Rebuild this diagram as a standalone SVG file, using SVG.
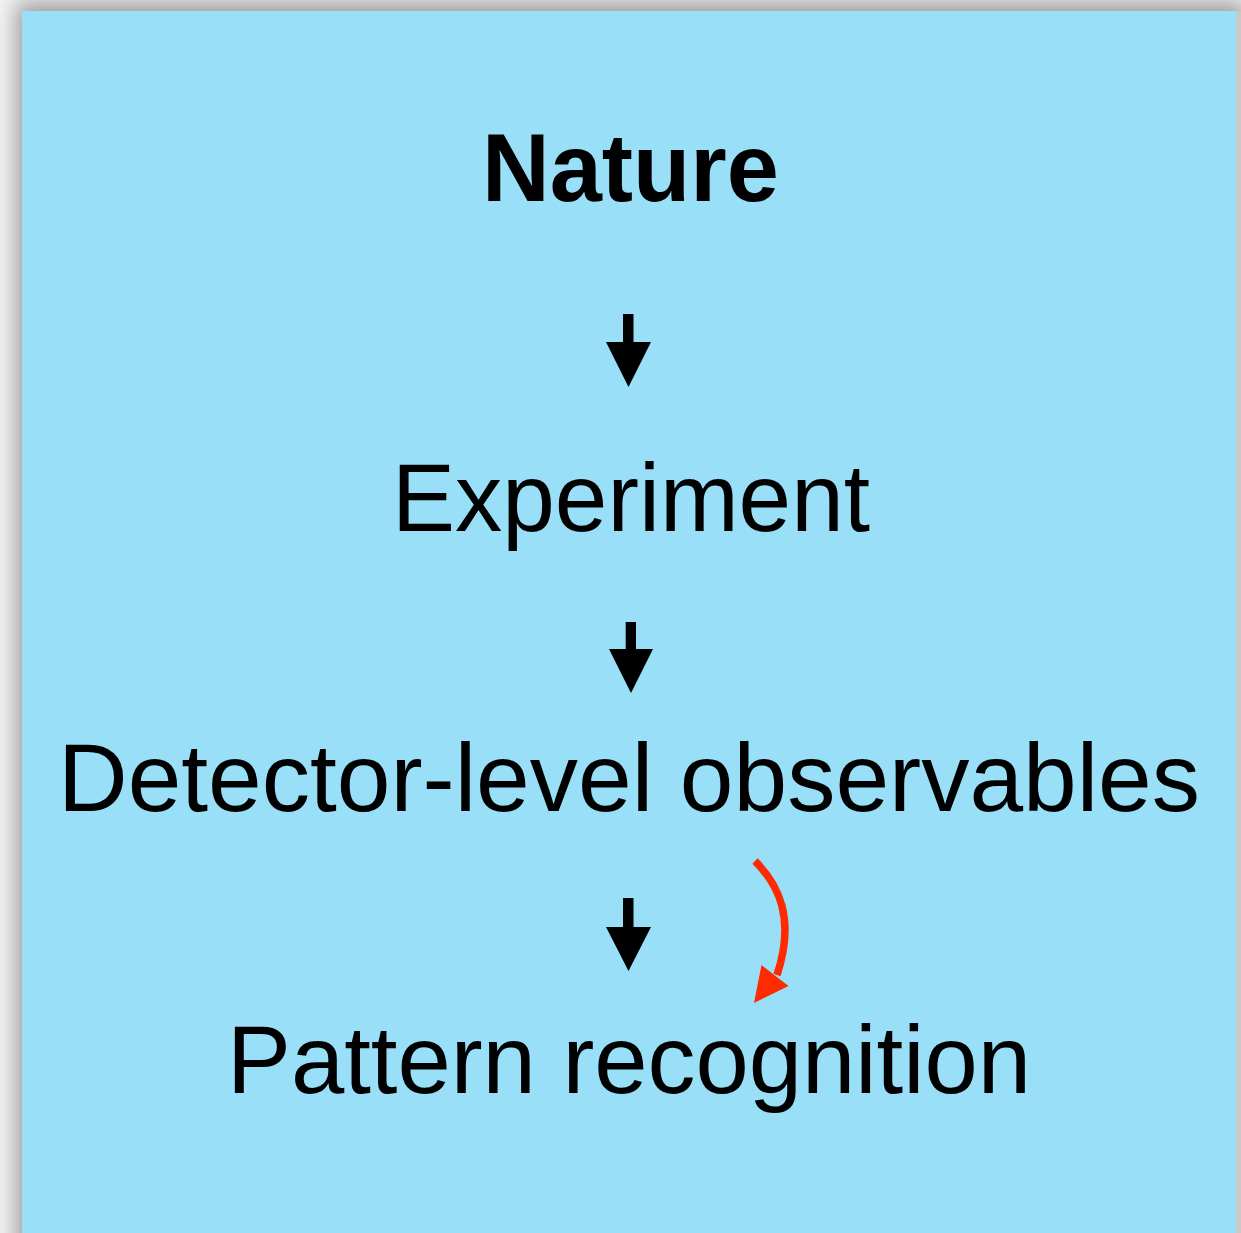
<svg xmlns="http://www.w3.org/2000/svg" width="1241" height="1233" viewBox="0 0 1241 1233">
  <defs>
    <filter id="shadow" x="-10%" y="-10%" width="120%" height="120%">
      <feGaussianBlur stdDeviation="11"/>
    </filter>
    <style>
      .label { font-family: "Liberation Sans", Arial, sans-serif; font-size: 96px; fill: #000; text-anchor: middle; }
      .title { font-weight: bold; }
      .down { fill: #000; }
      .curve { fill: none; stroke: #ff2a00; stroke-width: 7.5; stroke-linecap: butt; }
      .curve-head { fill: #ff2a00; }
    </style>
  </defs>

  <!-- page backdrop and card shadow -->
  <rect x="0" y="0" width="1241" height="1233" fill="#f4f4f4"/>
  <rect x="16" y="2" width="1230" height="1260" fill="#777" filter="url(#shadow)" opacity="0.7"/>
  <rect x="1236" y="11" width="5" height="1222" fill="#c9c9c9"/>

  <!-- card -->
  <rect id="card" x="22" y="11" width="1214" height="1222" fill="#99dff8"/>

  <g id="node-nature">
    <text class="label title" x="630.5" y="201" textLength="297" lengthAdjust="spacingAndGlyphs">Nature</text>
  </g>
  <g id="node-experiment">
    <text class="label" x="631" y="531" font-size="95" textLength="478" lengthAdjust="spacingAndGlyphs">Experiment</text>
  </g>
  <g id="node-detector">
    <text class="label" x="629" y="811" textLength="1142" lengthAdjust="spacingAndGlyphs">Detector-level observables</text>
  </g>
  <g id="node-pattern">
    <text class="label" x="629" y="1093" textLength="804" lengthAdjust="spacingAndGlyphs">Pattern recognition</text>
  </g>

  <g id="connectors">
    <!-- Nature -> Experiment -->
    <path class="down" d="M623,314 H633.5 V342 H651 L628.5,387 L606,342 H623 Z"/>
    <!-- Experiment -> Detector-level observables -->
    <path class="down" d="M625.7,622 H636 V649 H653 L631,693 L609,649 H625.7 Z"/>
    <!-- Detector-level observables -> Pattern recognition -->
    <path class="down" d="M623,898 H633.5 V927 H651 L628.5,971 L606,927 H623 Z"/>
    <!-- feedback curve -->
    <path class="curve" d="M755,861 C778,884 796,918 777,975"/>
    <polygon class="curve-head" points="761.5,965 788.5,986 754,1003"/>
  </g>
</svg>
